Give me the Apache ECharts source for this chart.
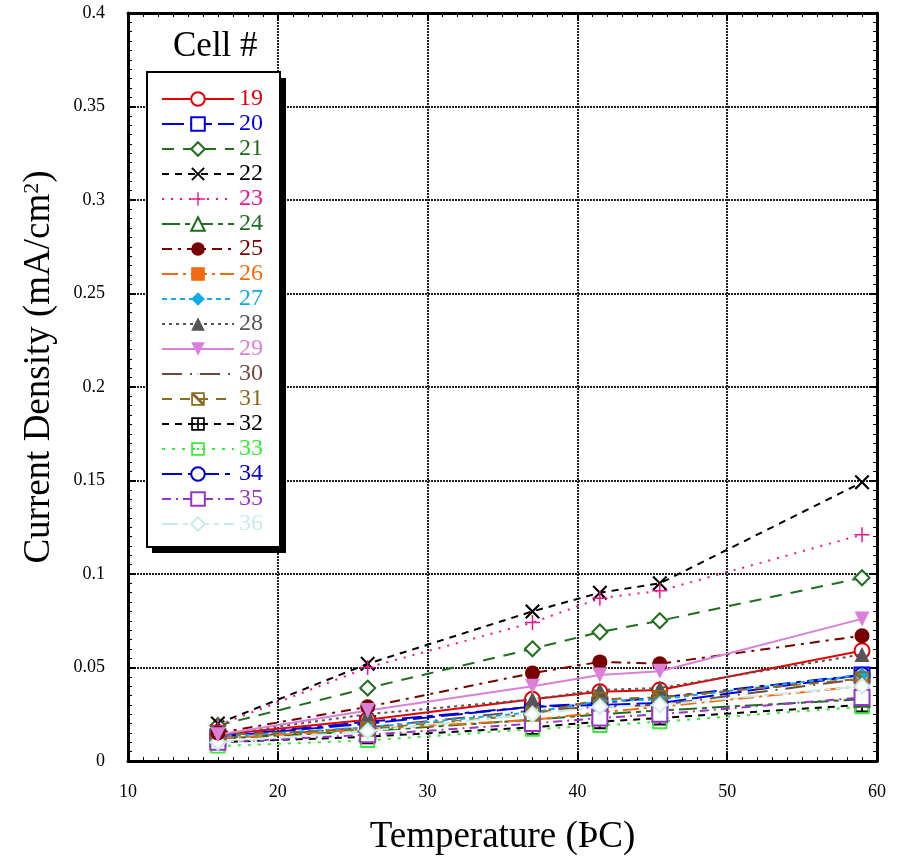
<!DOCTYPE html>
<html>
<head>
<meta charset="utf-8">
<script src="https://cdn.jsdelivr.net/npm/echarts@6/dist/echarts.min.js"></script>
<style>html,body{margin:0;padding:0;background:#fff;}#c{width:899px;height:861px;}</style>
</head>
<body>
<div id="c"></div>
<script>
// ---- data ----
var temps = [16, 26, 37, 41.5, 45.5, 59];
var cellNames = ['19','20','21','22','23','24','25','26','27','28','29','30','31','32','33','34','35','36'];
var cell19 = [0.014, 0.022, 0.033, 0.037, 0.038, 0.059];
var cell20 = [0.013, 0.020, 0.029, 0.030, 0.031, 0.046];
var cell21 = [0.019, 0.039, 0.060, 0.069, 0.075, 0.098];
var cell22 = [0.020, 0.052, 0.080, 0.090, 0.095, 0.149];
var cell23 = [0.019, 0.050, 0.074, 0.087, 0.091, 0.121];
var cell24 = [0.012, 0.016, 0.022, 0.025, 0.027, 0.033];
var cell25 = [0.015, 0.029, 0.047, 0.053, 0.052, 0.067];
var cell26 = [0.012, 0.017, 0.022, 0.026, 0.029, 0.040];
var cell27 = [0.013, 0.018, 0.026, 0.032, 0.033, 0.046];
var cell28 = [0.014, 0.025, 0.033, 0.038, 0.039, 0.057];
var cell29 = [0.014, 0.027, 0.040, 0.046, 0.048, 0.076];
var cell30 = [0.012, 0.018, 0.027, 0.029, 0.030, 0.044];
var cell31 = [0.014, 0.017, 0.025, 0.033, 0.034, 0.044];
var cell32 = [0.010, 0.013, 0.018, 0.021, 0.023, 0.030];
var cell33 = [0.008, 0.011, 0.017, 0.019, 0.021, 0.029];
var cell34 = [0.013, 0.021, 0.029, 0.031, 0.034, 0.046];
var cell35 = [0.010, 0.014, 0.020, 0.023, 0.025, 0.034];
var cell36 = [0.010, 0.016, 0.025, 0.029, 0.030, 0.040];
var cellValues = [cell19,cell20,cell21,cell22,cell23,cell24,cell25,cell26,cell27,cell28,cell29,cell30,cell31,cell32,cell33,cell34,cell35,cell36];
var xTicks = [10, 20, 30, 40, 50, 60];
var yTicks = [0, 0.05, 0.1, 0.15, 0.2, 0.25, 0.3, 0.35, 0.4];

// ---- styles ----
var P_X = 'path://M0 2L2 0L10 8L18 0L20 2L12 10L20 18L18 20L10 12L2 20L0 18L8 10Z';
var P_PLUS = 'path://M9 0H11V9H20V11H11V20H9V11H0V9H9Z';
var BOX = 'M0 0H20V2.5H0Z M0 17.5H20V20H0Z M0 0H2.5V20H0Z M17.5 0H20V20H17.5Z';
var P_BOXDIAG = 'path://' + BOX + ' M0 0L3 0L20 17L20 20L17 20L0 3Z';
var P_BOXCROSS = 'path://' + BOX + ' M8.75 0H11.25V20H8.75Z M0 8.75H20V11.25H0Z';
var P_BOXDOT = 'path://' + BOX + ' M8.5 8.5H11.5V11.5H8.5Z';
var P_DOT = 'path://M9.2 9.2H10.8V10.8H9.2Z M0 0H0.01V0.01H0Z M19.99 19.99H20V20H19.99Z';
var styles = [
  {c:'#e60000', d:'solid', s:'emptyCircle', z:14},
  {c:'#0000e6', d:[22,6], s:'emptyRect', z:13},
  {c:'#1e6e1e', d:[12,9], s:'emptyDiamond', z:15},
  {c:'#000000', d:[7,6], s:P_X, z:15},
  {c:'#f0148c', d:[2,7], s:P_PLUS, z:15},
  {c:'#1e6e1e', d:[18,5,5,5], s:'emptyTriangle', z:14},
  {c:'#780000', d:[10,6,3,6], s:'circle', z:16},
  {c:'#f26b10', d:[16,5,3,5], s:'rect', z:14},
  {c:'#10aae6', d:[5,4], s:'diamond', z:14},
  {c:'#555555', d:[3,4], s:'triangle', z:15},
  {c:'#d980d9', d:'solid', s:'triangle', z:16, rot:180},
  {c:'#6e4a3c', d:[20,8,2,8], s:P_DOT, z:4},
  {c:'#8a6a1e', d:[10,8], s:P_BOXDIAG, z:15},
  {c:'#000000', d:[7,6], s:P_BOXCROSS, z:12},
  {c:'#33ee33', d:[3,7], s:P_BOXDOT, z:12},
  {c:'#0000cc', d:[20,6,5,6], s:'emptyCircle', z:13},
  {c:'#9933cc', d:[9,5,2,5], s:'emptyRect', z:14},
  {c:'#c8ecec', d:[16,5,5,5], s:'emptyDiamond', z:15}
];

var series = cellNames.map(function(name, i){
  var st = styles[i];
  var empty = typeof st.s === 'string' && st.s.indexOf('empty') === 0;
  return {
    name: name,
    type: 'line',
    data: temps.map(function(t, j){ return [t, cellValues[i][j]]; }),
    symbol: st.s,
    symbolSize: 15,
    symbolRotate: st.rot || 0,
    showAllSymbol: true,
    z: st.z,
    lineStyle: {color: st.c, width: 2, type: st.d},
    itemStyle: {color: st.c, borderColor: st.c, borderWidth: empty ? 2 : 0},
    emphasis: {disabled: true},
    animation: false
  };
});

var chart = echarts.init(document.getElementById('c'));
var serif = 'Liberation Serif, Times New Roman, serif';
var axisCommon = {
  axisLine: {show: true, onZero: false, lineStyle: {color: '#000', width: 3}},
  axisTick: {show: true, inside: true, length: 8, lineStyle: {color: '#000', width: 2}},
  minorTick: {show: true, splitNumber: 10, length: 4, lineStyle: {color: '#000', width: 1}}
};
chart.setOption({
  animation: false,
  backgroundColor: '#fff',
  title: {
    text: 'Cell #', left: 168, top: 24,
    textStyle: {fontFamily: serif, fontSize: 35, fontWeight: 'normal', color: '#000'}
  },
  graphic: [{
    type: 'rect', z: 1, silent: true,
    shape: {x: 152, y: 78, width: 134, height: 475},
    style: {fill: '#000'}
  }],
  legend: {
    orient: 'vertical', left: 147, top: 72, z: 5,
    padding: [15, 17, 11, 14],
    itemWidth: 72, itemHeight: 17, itemGap: 1,
    backgroundColor: '#fff', borderColor: '#000', borderWidth: 2,
    textStyle: {fontFamily: serif, fontSize: 24},
    data: cellNames.map(function(n, i){ return {name: n, textStyle: {color: styles[i].c}}; })
  },
  grid: {left: 128, right: 22, top: 13, bottom: 98},
  xAxis: [
    Object.assign({
      type: 'value', min: xTicks[0], max: xTicks[xTicks.length-1], interval: 10, position: 'bottom',
      name: 'Temperature (ÞC)', nameLocation: 'middle', nameGap: 58,
      nameTextStyle: {fontFamily: serif, fontSize: 37, color: '#000'},
      axisLabel: {fontFamily: serif, fontSize: 18, color: '#000', margin: 22},
      splitLine: {show: true, lineStyle: {color: '#222', width: 2, type: [2,1]}}
    }, axisCommon),
    Object.assign({
      type: 'value', min: 10, max: 60, interval: 10, position: 'top',
      axisLabel: {show: false}, splitLine: {show: false}
    }, axisCommon)
  ],
  yAxis: [
    Object.assign({
      type: 'value', min: yTicks[0], max: yTicks[yTicks.length-1], interval: 0.05, position: 'left',
      name: 'Current Density (mA/cm{sup|2})', nameLocation: 'middle', nameGap: 70,
      nameTextStyle: {fontFamily: serif, fontSize: 37, color: '#000', padding: [0, 0, 0, 40],
        rich: {sup: {fontFamily: serif, fontSize: 22, verticalAlign: 'top', padding: [0,0,14,0], color: '#000'}}},
      axisLabel: {fontFamily: serif, fontSize: 18, color: '#000', margin: 23},
      splitLine: {show: true, lineStyle: {color: '#222', width: 2, type: [2,1]}}
    }, axisCommon),
    Object.assign({
      type: 'value', min: 0, max: 0.4, interval: 0.05, position: 'right',
      axisLabel: {show: false}, splitLine: {show: false}
    }, axisCommon)
  ],
  series: series
});
</script>
</body>
</html>
